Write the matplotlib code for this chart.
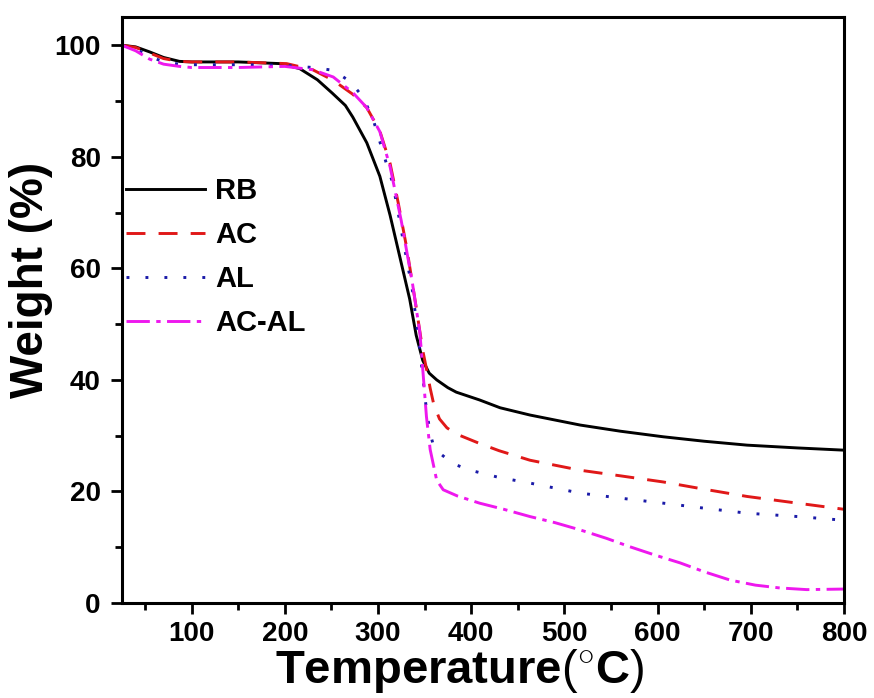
import numpy as np
import matplotlib
matplotlib.use("Agg")
import matplotlib.pyplot as plt

plt.rcParams["font.family"] = ["Liberation Sans", "DejaVu Sans"]
plt.rcParams["mathtext.fontset"] = "custom"
plt.rcParams["mathtext.rm"] = "Liberation Sans"

# TGA curves (temperature in C, weight in %)
rb_t = [25, 40, 55, 70, 87, 100, 150, 195, 216, 235, 251, 265, 273, 288, 302, 313, 320,
        334, 341, 348, 355, 363, 375, 384, 409, 431, 463, 517, 560, 606, 650, 696, 750, 800]
rb_w = [100, 99.7, 98.8, 97.8, 97.1, 97.0, 97.0, 96.7, 95.8, 93.8, 91.4, 89.2, 87.1, 82.5,
        76.5, 69.5, 64.5, 54.5, 48.0, 43.5, 41.2, 40.0, 38.6, 37.8, 36.4, 35.0, 33.7, 31.9,
        30.8, 29.8, 29.0, 28.3, 27.8, 27.4]

ac_t = [25, 40, 55, 70, 87, 100, 150, 202, 230, 252, 273, 288, 302, 313, 322, 331, 341,
        348, 352, 356, 360, 366, 374, 384, 409, 430, 463, 517, 560, 606, 650, 696, 750, 800]
ac_w = [100, 99.6, 98.6, 97.6, 97.1, 97.0, 97.0, 96.7, 95.6, 93.7, 91.2, 88.8, 84.6, 78.8,
        71.5, 63.5, 53.0, 45.3, 42.0, 38.5, 35.5, 33.0, 31.4, 30.3, 28.6, 27.3, 25.6, 23.8,
        22.8, 21.7, 20.4, 19.1, 17.9, 16.8]

al_t = [25, 40, 55, 70, 87, 100, 150, 200, 230, 252, 270, 284, 295, 309, 316, 327, 337,
        345, 352, 356, 359, 366, 380, 399, 430, 463, 517, 560, 606, 650, 696, 750, 795]
al_w = [100, 99.3, 98.0, 97.0, 96.6, 96.5, 96.5, 96.4, 96.0, 95.5, 93.5, 90.7, 86.6, 78.8,
        75.2, 65.0, 56.0, 45.3, 34.6, 30.5, 28.5, 26.9, 25.0, 23.8, 22.5, 21.5, 19.7, 18.8,
        17.9, 17.0, 16.1, 15.5, 14.9]

acal_t = [25, 40, 55, 70, 87, 100, 150, 200, 230, 252, 273, 288, 302, 313, 325, 337, 345,
          348, 352, 356, 363, 370, 385, 409, 435, 463, 490, 517, 545, 570, 597, 624, 650,
          678, 705, 731, 760, 800]
acal_w = [100, 99.0, 97.5, 96.6, 96.2, 96.0, 96.0, 96.2, 95.6, 94.3, 91.5, 88.8, 84.5,
          78.2, 68.5, 57.3, 48.4, 42.0, 33.4, 27.5, 22.0, 20.3, 19.2, 17.9, 16.8, 15.5,
          14.4, 13.1, 11.6, 10.1, 8.6, 7.2, 5.6, 4.1, 3.2, 2.7, 2.4, 2.5]

fig = plt.figure(figsize=(8.74, 6.98), dpi=100)
ax = fig.add_axes([0.1392, 0.1361, 0.8265, 0.8391])

lw = 2.1
ax.plot(rb_t, rb_w, color="black", lw=lw, label="RB")
ax.plot(ac_t, ac_w, color="#e01818", lw=lw, dashes=(6.5, 4.5), label="AC")
ax.plot(al_t, al_w, color="#1a1aa8", lw=lw, dashes=(1, 5.5), label="AL")
ax.plot(acal_t, acal_w, color="#ee18ee", lw=lw, dashes=(8, 2.2, 1.5, 2.2), label="AC-AL")

ax.set_xlim(25, 800)
ax.set_ylim(0, 105)
ax.set_xticks(range(100, 801, 100))
ax.set_xticks(range(50, 801, 100), minor=True)
ax.set_yticks(range(0, 101, 20))
ax.set_yticks(range(10, 101, 20), minor=True)

for s in ax.spines.values():
    s.set_linewidth(2.2)
ax.tick_params(which="major", direction="out", length=8, width=2, labelsize=20, pad=5)
ax.tick_params(which="minor", direction="out", length=5, width=2)
ax.tick_params(axis="y", which="major", pad=7)
for lab in ax.get_xticklabels() + ax.get_yticklabels():
    lab.set_fontweight("bold")

ax.set_xlabel("Temperature$(^{\\circ}$C$)$", fontsize=34, fontweight="bold", labelpad=0)
ax.xaxis.label.set_x(0.468)
ax.set_ylabel("Weight (%)", fontsize=33, fontweight="bold", labelpad=1)
ax.yaxis.label.set_y(0.551)

leg = ax.legend(loc="upper left", bbox_to_anchor=(0.1442, 0.746),
                bbox_transform=fig.transFigure, frameon=False, borderpad=0,
                borderaxespad=0, handlelength=2.7, handletextpad=0.35,
                labelspacing=0.55, prop={"size": 21, "weight": "bold"})

fig.savefig("out.png", dpi=100)
